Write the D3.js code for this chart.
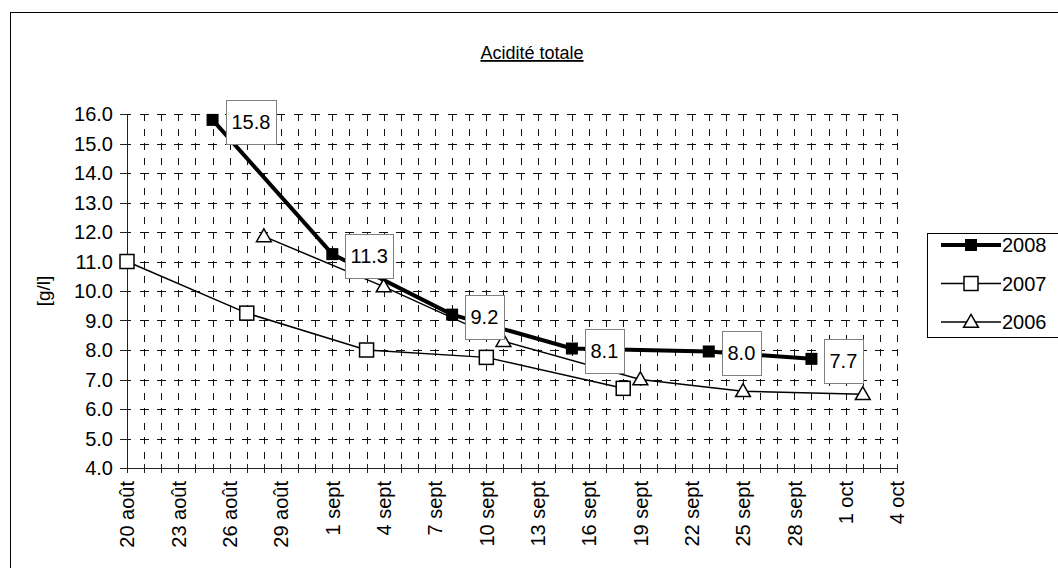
<!DOCTYPE html>
<html>
<head>
<meta charset="utf-8">
<script src="https://cdn.jsdelivr.net/npm/d3@7"></script>
<style>
  body { margin: 0; background: #fff; }
  svg { display: block; font-family: "Liberation Sans", Arial, sans-serif; }
</style>
</head>
<body>
<div id="chart"></div>
<script>
// data
var dates2008 = ["2008-08-25", "2008-09-01", "2008-09-08", "2008-09-15", "2008-09-23", "2008-09-29"];
var values2008 = [15.8, 11.25, 9.2, 8.05, 7.95, 7.7];

var dates2007 = ["2008-08-20", "2008-08-27", "2008-09-03", "2008-09-10", "2008-09-18"];
var values2007 = [11.0, 9.25, 8.0, 7.75, 6.7];

var dates2006 = ["2008-08-28", "2008-09-04", "2008-09-11", "2008-09-19", "2008-09-25", "2008-10-02"];
var values2006 = [11.85, 10.15, 8.3, 7.0, 6.6, 6.5];

var seriesNames = ["2008", "2007", "2006"];
var yTicks = [4, 5, 6, 7, 8, 9, 10, 11, 12, 13, 14, 15, 16];
var dateStart = "2008-08-20", dateEnd = "2008-10-04";
var moisFr = ["janv", "févr", "mars", "avr", "mai", "juin", "juil", "août", "sept", "oct", "nov", "déc"];
var titre = "Acidité totale", yTitre = "[g/l]";

var W = 1058, H = 568;
var chartC = { x0: 127, x1: 897, y0: 114, y1: 468 };
var parse = d3.timeParse("%Y-%m-%d");
var fmt = d3.format(".1f");

function toPts(dates, vals) {
    var out = [];
    for (i = 0; i < dates.length; i++) out.push({ d: parse(dates[i]), v: vals[i] });
    return out;
}
var s2008 = toPts(dates2008, values2008);
var s2007 = toPts(dates2007, values2007);
var s2006 = toPts(dates2006, values2006);

var svg = d3.select('#chart').append('svg')
    .attr('width', W)
    .attr('height', H);

// outer chart frame (runs off the right/bottom edge)
svg.append('rect')
    .attr('x', 10.5).attr('y', 12.5)
    .attr('width', 1100).attr('height', 600)
    .attr('fill', 'none').attr('stroke', '#000');

var x = d3.scaleTime()
    .domain([parse(dateStart), parse(dateEnd)])
    .range([chartC.x0, chartC.x1]);
var y = d3.scaleLinear()
    .domain([4, 16])
    .range([chartC.y1, chartC.y0]);

var days = d3.timeDay.range(parse(dateStart), d3.timeDay.offset(parse(dateEnd), 1));
var snap = v => Math.round(v) + 0.5;

// grid
var grid = svg.append('g').attr('stroke', '#111').attr('stroke-width', 1)
    .attr('fill', 'none').attr('shape-rendering', 'crispEdges');
grid.selectAll('.vg')
    .data(days.slice(1))
    .enter().append('line')
    .attr('x1', d => snap(x(d))).attr('x2', d => snap(x(d)))
    .attr('y1', chartC.y0).attr('y2', chartC.y1)
    .attr('stroke-dasharray', '7,7.7');
grid.selectAll('.hg')
    .data(yTicks.slice(1))
    .enter().append('line')
    .attr('x1', chartC.x0).attr('x2', chartC.x1)
    .attr('y1', d => snap(y(d))).attr('y2', d => snap(y(d)))
    .attr('stroke-dasharray', '9,8.11')
    .attr('stroke-dashoffset', -12.6);

// axes
var axes = svg.append('g').attr('stroke', '#222').attr('stroke-width', 1)
    .attr('shape-rendering', 'crispEdges');
axes.append('line')
    .attr('x1', snap(chartC.x0)).attr('x2', snap(chartC.x0))
    .attr('y1', chartC.y0).attr('y2', snap(chartC.y1));
axes.selectAll('.yt')
    .data(yTicks)
    .enter().append('line')
    .attr('x1', chartC.x0 - 7).attr('x2', snap(chartC.x0))
    .attr('y1', d => snap(y(d))).attr('y2', d => snap(y(d)));
axes.append('line')
    .attr('x1', chartC.x0 - 7).attr('x2', chartC.x1 + 1)
    .attr('y1', snap(chartC.y1)).attr('y2', snap(chartC.y1));
axes.selectAll('.xt')
    .data(days)
    .enter().append('line')
    .attr('x1', d => snap(x(d))).attr('x2', d => snap(x(d)))
    .attr('y1', chartC.y1 - 4).attr('y2', chartC.y1 + 5);

// tick labels
svg.append('g')
    .selectAll('text')
    .data(yTicks)
    .enter().append('text')
    .attr('x', chartC.x0 - 14)
    .attr('y', d => y(d))
    .attr('dy', '0.36em')
    .attr('text-anchor', 'end')
    .style('font-size', '20px')
    .text(d => fmt(d));

svg.append('g')
    .selectAll('text')
    .data(days.filter((d, i) => i % 3 === 0))
    .enter().append('text')
    .attr('transform', d => `translate(${x(d)},${chartC.y1 + 13}) rotate(-90)`)
    .attr('dy', '0.36em')
    .attr('text-anchor', 'end')
    .style('font-size', '20px')
    .text(d => d.getDate() + ' ' + moisFr[d.getMonth()]);

// titles
svg.append('text')
    .attr('x', 532).attr('y', 59)
    .attr('text-anchor', 'middle')
    .style('font-size', '18px')
    .style('text-decoration', 'underline')
    .text(titre);

svg.append('text')
    .attr('transform', `translate(43,${(chartC.y0 + chartC.y1) / 2}) rotate(-90)`)
    .attr('text-anchor', 'middle')
    .attr('dy', '0.36em')
    .style('font-size', '19px')
    .text(yTitre);

// series
var line = d3.line().x(d => x(d.d)).y(d => y(d.v));
var tri = d3.symbol().type(d3.symbolTriangle).size(95);

function drawMarker(g, kind) {
    if (kind === 'fill') {
        g.append('rect').attr('x', -6).attr('y', -6).attr('width', 12).attr('height', 12)
            .attr('fill', '#000');
    } else if (kind === 'open') {
        g.append('rect').attr('x', -7).attr('y', -7).attr('width', 14).attr('height', 14)
            .attr('fill', '#fff').attr('stroke', '#000').attr('stroke-width', 1.5);
    } else {
        g.append('path').attr('d', tri).attr('transform', 'translate(0,1)')
            .attr('fill', '#fff').attr('stroke', '#000').attr('stroke-width', 1.5);
    }
}

var seriesList = [
    { data: s2006, width: 1.5, kind: 'tri' },
    { data: s2007, width: 1.5, kind: 'open' },
    { data: s2008, width: 4, kind: 'fill' }
];
seriesList.forEach(function (s) {
    svg.append('path')
        .datum(s.data)
        .attr('d', line)
        .attr('fill', 'none')
        .attr('stroke', '#000')
        .attr('stroke-width', s.width);
});
seriesList.forEach(function (s) {
    svg.append('g')
        .selectAll('g')
        .data(s.data)
        .enter().append('g')
        .attr('transform', d => `translate(${x(d.d)},${y(d.v)})`)
        .each(function () { drawMarker(d3.select(this), s.kind); });
});

// data labels for 2008
var lab = svg.append('g')
    .selectAll('g')
    .data(s2008)
    .enter().append('g')
    .attr('transform', d => `translate(${Math.round(x(d.d)) + 13},${Math.round(y(d.v)) + 2})`);
lab.append('text')
    .attr('x', 0).attr('y', 0)
    .attr('dy', '0.36em')
    .style('font-size', '20px')
    .text(d => fmt(d.v))
    .each(function () {
        var w = this.getComputedTextLength();
        d3.select(this).attr('x', 5.5);
        d3.select(this.parentNode).insert('rect', 'text')
            .attr('x', 0.5).attr('y', -21.5)
            .attr('width', Math.round(w + 11)).attr('height', 44)
            .attr('fill', '#fff').attr('stroke', '#808080');
    });

// legend
var legend = svg.append('g').attr('transform', 'translate(927,233)');
legend.append('rect')
    .attr('x', 0.5).attr('y', 0.5)
    .attr('width', 140).attr('height', 104)
    .attr('fill', '#fff').attr('stroke', '#000');
var legKinds = ['fill', 'open', 'tri'];
var legWidths = [4, 1.5, 1.5];
seriesNames.forEach(function (n, i) {
    var gy = 12 + i * 38.5;
    legend.append('line')
        .attr('x1', 14).attr('x2', 74)
        .attr('y1', gy).attr('y2', gy)
        .attr('stroke', '#000').attr('stroke-width', legWidths[i]);
    var m = legend.append('g').attr('transform', `translate(44,${gy})`);
    drawMarker(m, legKinds[i]);
    legend.append('text')
        .attr('x', 75).attr('y', gy)
        .attr('dy', '0.36em')
        .style('font-size', '20px')
        .text(n);
});
</script>
</body>
</html>
